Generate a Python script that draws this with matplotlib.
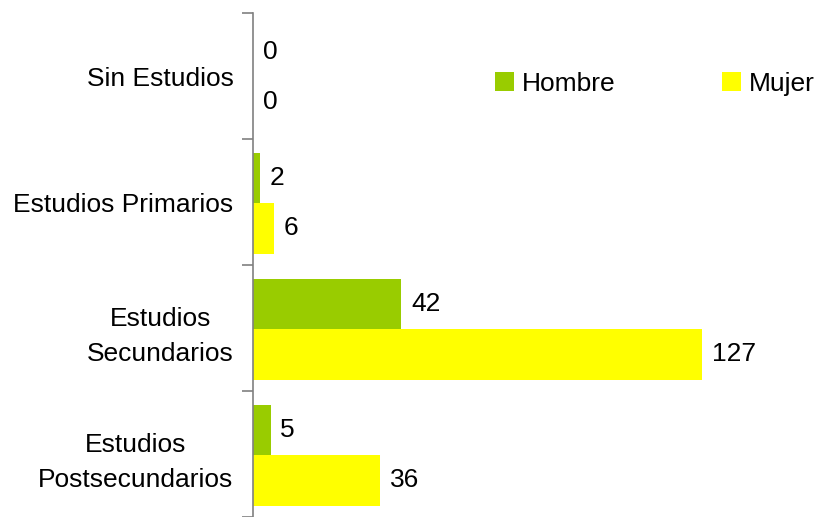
import matplotlib.pyplot as plt
import numpy as np

plt.rcParams['font.family'] = ['Liberation Sans', 'DejaVu Sans']

# Datos
categorias = ['Sin Estudios', 'Estudios Primarios', 'Estudios\nSecundarios', 'Estudios\nPostsecundarios']
hombre = [0, 2, 42, 5]
mujer = [0, 6, 127, 36]

verde = '#99CC00'
amarillo = '#FFFF00'

fig = plt.figure(figsize=(8.22, 5.17), dpi=100)
ax = fig.add_axes([253 / 822, 0, 569 / 822, 504 / 517])

y = np.arange(len(categorias))
h = 0.4
b1 = ax.barh(y - h / 2 + 0.01, hombre, height=h, color=verde, label='Hombre')
b2 = ax.barh(y + h / 2 + 0.01, mujer, height=h, color=amarillo, label='Mujer')

ax.bar_label(b1, padding=7, fontsize=19)
ax.bar_label(b2, padding=7, fontsize=19)

ax.set_ylim(len(categorias) - 0.5, -0.5)
ax.set_xlim(0, 161)

# etiquetas en el centro, marcas en los limites
ax.set_yticks(y)
ax.set_yticklabels(categorias, fontsize=19, multialignment='center', linespacing=1.6)
ax.tick_params(axis='y', which='major', length=0, pad=14)
ax.set_yticks(np.arange(-0.5, len(categorias), 1), minor=True)
ax.tick_params(axis='y', which='minor', length=8, color='#808080', width=1.2)

ax.set_xticks([])
for s in ['top', 'right', 'bottom']:
    ax.spines[s].set_visible(False)
ax.spines['left'].set_color('#808080')
ax.spines['left'].set_linewidth(1.2)

ax.legend(loc='center left', bbox_to_anchor=(0.425, 0.86), ncol=2, frameon=False,
          fontsize=19, borderpad=0, borderaxespad=0, handlelength=0.72, handleheight=0.72,
          handletextpad=0.3, columnspacing=4.05)

plt.savefig('out.png', dpi=100)
